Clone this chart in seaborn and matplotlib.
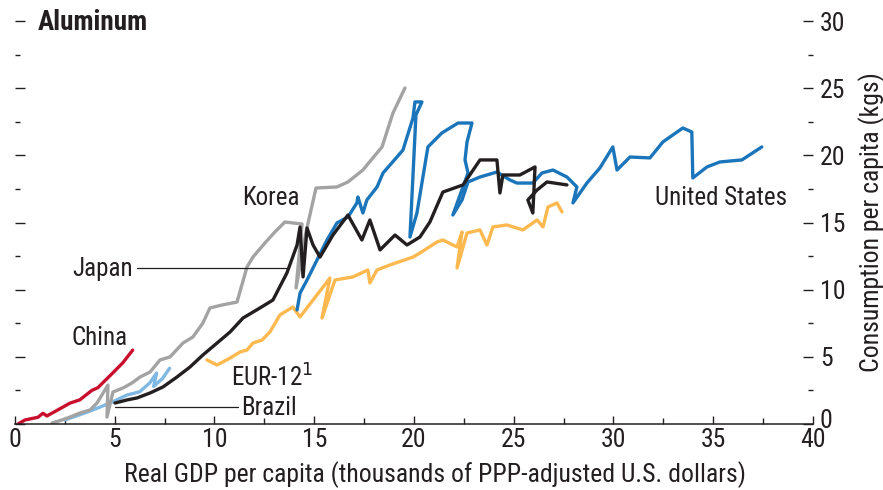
import numpy as np
import pandas as pd
import matplotlib
matplotlib.use('Agg')
import matplotlib.pyplot as plt
import matplotlib.transforms as mtransforms
import seaborn as sns
from matplotlib.ticker import MultipleLocator

# GDP per capita (thousands of PPP USD) vs aluminum consumption per capita (kgs)
china_x = [0.15, 0.5, 1.15, 1.4, 1.6, 2.15, 2.75, 3.25, 3.85, 4.15, 4.9, 5.4, 5.9]
china_y = [0.0, 0.3, 0.5, 0.8, 0.6, 1.05, 1.55, 1.8, 2.5, 2.7, 3.8, 4.55, 5.5]

brazil_x = [2.5, 3.65, 4.75, 5.6, 6.25, 6.75, 7.1, 6.95, 7.4, 7.75]
brazil_y = [0.3, 0.9, 1.55, 2.15, 2.4, 3.05, 3.8, 2.8, 3.4, 4.15]

korea_x = [1.85, 2.36, 2.76, 3.26, 3.76, 4.11, 4.66, 4.61, 4.91, 5.41, 5.86, 6.27, 6.77,
           7.27, 7.77, 8.42, 8.92, 9.42, 9.77, 10.38, 11.13, 11.63, 11.93, 12.53, 13.03,
           13.53, 14.39, 14.09, 14.59, 15.09, 16.14, 16.69, 17.44, 17.94, 18.4, 18.95, 19.55]
korea_y = [0.07, 0.3, 0.52, 0.82, 1.04, 1.56, 2.9, 0.52, 2.38, 2.68, 3.05, 3.5, 3.87,
           4.77, 4.99, 6.03, 6.48, 7.52, 8.64, 8.86, 9.08, 11.69, 12.43, 13.48, 14.3,
           15.04, 14.89, 10.13, 14.3, 17.57, 17.65, 18.02, 18.91, 19.81, 20.63, 23.16, 25.02]

japan_x = [5.01, 5.61, 6.12, 6.77, 7.42, 8.12, 8.77, 9.42, 10.13, 10.78, 11.43, 12.28, 12.93,
           13.63, 14.14, 14.29, 14.44, 14.64, 14.94, 15.29, 15.94, 16.69, 17.39, 17.79, 18.3,
           19.05, 19.65, 20.3, 20.8, 21.45, 22.46, 23.31, 24.16, 24.31, 24.46, 25.31, 26.07,
           25.96, 25.71, 26.17, 26.67, 27.67]
japan_y = [1.56, 1.79, 1.94, 2.31, 2.76, 3.5, 4.24, 5.14, 6.03, 6.85, 7.89, 8.64, 9.23,
           11.24, 13.33, 14.67, 10.95, 14.59, 13.33, 12.43, 14.07, 15.56, 13.7, 15.19, 12.96,
           14.07, 13.33, 13.92, 15.04, 17.27, 17.8, 19.66, 19.66, 17.2, 18.54, 18.54, 19.14,
           15.71, 16.68, 17.42, 18.02, 17.8]

eur_x = [9.62, 10.13, 10.78, 11.28, 11.63, 11.93, 12.38, 12.78, 13.28, 13.93, 14.29, 14.94,
         15.79, 15.39, 16.04, 16.94, 17.69, 17.79, 18.15, 18.8, 19.95, 20.3, 21.15, 21.45,
         22.16, 22.41, 22.16, 22.66, 23.31, 23.66, 23.96, 24.66, 25.46, 26.17, 26.47, 26.72,
         27.17, 27.42]
eur_y = [4.77, 4.39, 4.91, 5.36, 5.51, 6.03, 6.25, 6.85, 8.12, 8.71, 7.97, 9.23,
         10.87, 7.89, 10.72, 10.95, 11.47, 10.5, 11.47, 11.84, 12.43, 12.73, 13.55, 13.7,
         13.18, 14.3, 11.62, 14.22, 14.45, 13.33, 14.67, 14.82, 14.45, 15.19, 14.67, 16.16,
         16.46, 15.79]

us_x = [14.14, 14.29, 14.64, 15.14, 15.64, 16.14, 16.69, 17.14, 17.19, 17.44, 17.64, 18.15,
        18.45, 19.15, 19.45, 19.95, 20.05, 20.4, 20.1, 19.8, 20.15, 20.7, 21.4, 22.21, 22.91,
        22.66, 22.56, 22.71, 21.95, 22.41, 22.71, 23.31, 24.16, 24.81, 25.16, 25.96, 26.42,
        26.97, 27.67, 28.17, 27.97, 28.67, 29.32, 29.97, 30.18, 30.83, 31.83, 32.48, 33.48,
        33.93, 33.98, 34.69, 35.34, 36.44, 37.44]
us_y = [8.49, 9.75, 10.72, 12.21, 13.7, 14.97, 15.41, 16.46, 16.9, 15.71, 16.68, 17.65,
        18.69, 19.88, 20.4, 22.78, 23.98, 23.98, 23.01, 13.92, 15.71, 20.63, 21.67, 22.41, 22.41,
        21.0, 19.66, 18.69, 15.56, 16.68, 18.02, 18.39, 18.76, 18.17, 17.94, 17.94, 18.69,
        18.91, 18.39, 17.65, 16.46, 17.94, 19.06, 20.63, 18.91, 19.88, 19.81, 21.0, 22.04,
        21.74, 18.32, 19.14, 19.51, 19.66, 20.63]

series = [
    ('China', china_x, china_y, '#c8102e'),
    ('Brazil', brazil_x, brazil_y, '#7fb8e2'),
    ('Korea', korea_x, korea_y, '#a3a3a3'),
    ('EUR-12', eur_x, eur_y, '#fdb94f'),
    ('United States', us_x, us_y, '#1b75bb'),
    ('Japan', japan_x, japan_y, '#231f20'),
]

sns.set_theme(style='white')
plt.rcParams['font.family'] = ['Roboto Condensed', 'Sofia Sans Condensed',
                               'Liberation Sans Narrow', 'DejaVu Sans']
txt = '#231f20'
fs = 18.5   # tick labels and axis titles
fs_lab = 18  # series labels

fig = plt.figure(figsize=(8.83, 4.9), dpi=100)
ax = fig.add_axes([0.017, 0.1347, 0.9036, 0.8223])

for name, xs, ys, col in series:
    df = pd.DataFrame({'gdp': xs, 'cons': ys})
    sns.lineplot(data=df, x='gdp', y='cons', sort=False, estimator=None,
                 color=col, lw=2.4, ax=ax)

ax.set_xlim(0, 40)
ax.set_ylim(0, 30)

for s in ['top', 'left', 'right']:
    ax.spines[s].set_visible(False)
ax.spines['bottom'].set_color(txt)
ax.spines['bottom'].set_linewidth(1.1)

ax.xaxis.set_major_locator(MultipleLocator(5))
ax.xaxis.set_minor_locator(MultipleLocator(2.5))
ax.yaxis.set_major_locator(MultipleLocator(5))
ax.yaxis.set_minor_locator(MultipleLocator(2.5))

ax.tick_params(axis='x', which='both', direction='in', bottom=True, color=txt,
               labelcolor=txt, labelsize=fs, width=1.0, pad=3)
ax.tick_params(axis='x', which='major', length=6)
ax.tick_params(axis='x', which='minor', length=4)
ax.tick_params(axis='y', which='both', direction='in', left=True, right=True,
               labelleft=False, labelright=True, color=txt, labelcolor=txt,
               labelsize=fs, width=1.0, pad=5)
ax.tick_params(axis='y', which='major', length=7)
ax.tick_params(axis='y', which='minor', length=3.5)

# nudge the y "0" label up a touch, as in the reference
fig.canvas.draw()
for lab in ax.yaxis.get_majorticklabels():
    if lab.get_text() in ('0', '\u22120'):
        lab.set_transform(lab.get_transform() +
                          mtransforms.ScaledTranslation(0, 4 / 72, fig.dpi_scale_trans))

ax.yaxis.set_label_position('right')
ax.set_ylabel('Consumption per capita (kgs)', fontsize=fs, color=txt, labelpad=9)
ax.set_xlabel('Real GDP per capita (thousands of PPP-adjusted U.S. dollars)',
              fontsize=fs, color=txt)
ax.xaxis.set_label_coords(0.526, -0.093)

ax.text(1.15, 29.9, 'Aluminum', fontsize=19.5, fontweight='bold', color=txt,
        ha='left', va='center')
ax.text(11.4, 16.8, 'Korea', fontsize=fs_lab, color=txt, ha='left', va='center')
ax.text(2.85, 11.55, 'Japan', fontsize=fs_lab, color=txt, ha='left', va='center')
ax.text(2.85, 6.4, 'China', fontsize=fs_lab, color=txt, ha='left', va='center')
ax.text(10.85, 3.4, 'EUR-12$^{1}$', fontsize=fs_lab, color=txt, ha='left', va='center')
ax.text(11.35, 1.2, 'Brazil', fontsize=fs_lab, color=txt, ha='left', va='center')
ax.text(32.1, 16.8, 'United States', fontsize=fs_lab, color=txt, ha='left', va='center')

ax.plot([6.1, 13.7], [11.6, 11.6], color=txt, lw=0.9)
ax.plot([5.0, 11.2], [1.27, 1.27], color=txt, lw=0.9)

fig.savefig('out.png', dpi=100)
